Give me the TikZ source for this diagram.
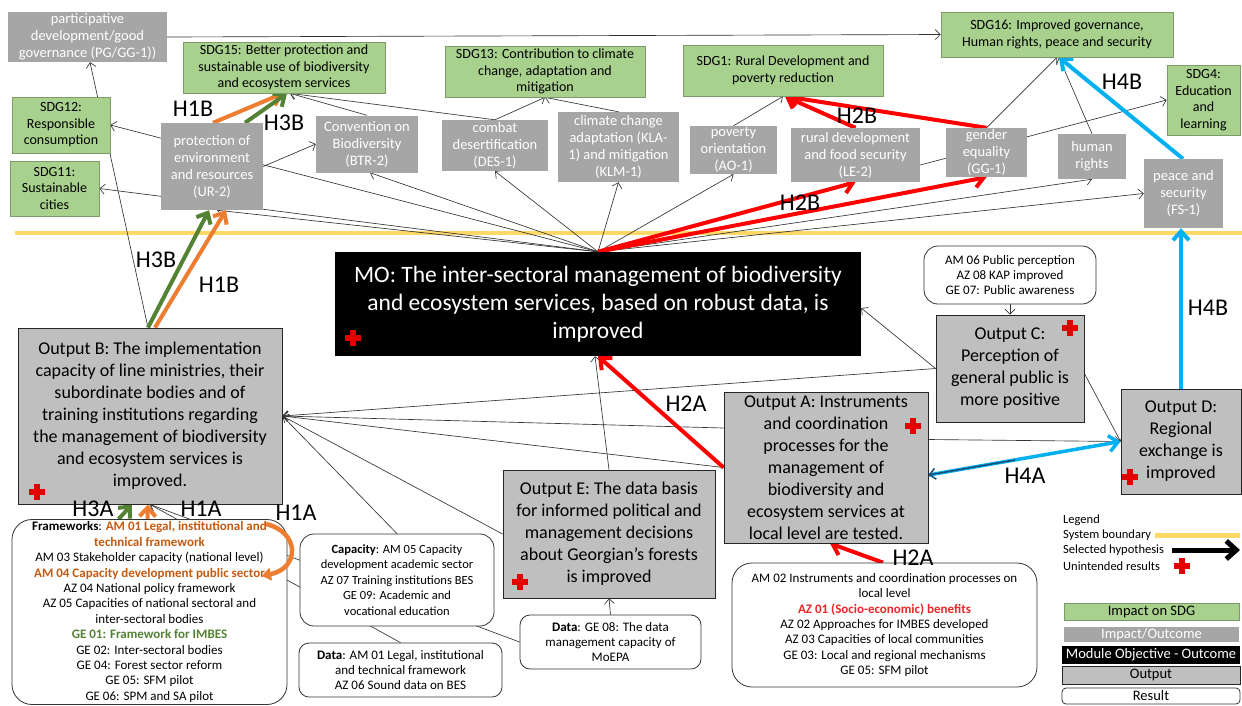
\documentclass[tikz,border=0pt]{standalone}
\usepackage{fontspec}
\setmainfont{Carlito}
\usetikzlibrary{arrows.meta,calc}
\pgfdeclarelayer{bg}
\pgfsetlayers{bg,main}
\definecolor{sdgfill}{RGB}{169,209,142}
\definecolor{sdgdraw}{RGB}{125,155,105}
\definecolor{impgray}{RGB}{166,166,166}
\definecolor{outgray}{RGB}{191,191,191}
\definecolor{hyorange}{RGB}{237,125,49}
\definecolor{hygreen}{RGB}{84,130,53}
\definecolor{hyred}{RGB}{255,0,0}
\definecolor{hyblue}{RGB}{0,176,240}
\definecolor{hynavy}{RGB}{31,78,121}
\definecolor{boundary}{RGB}{255,217,102}
\definecolor{txtorange}{RGB}{197,90,17}
\definecolor{txtgreen}{RGB}{84,130,53}
\definecolor{txtred}{RGB}{232,40,40}
\definecolor{crossred}{RGB}{228,0,0}
\tikzset{
  sdg/.style={draw=sdgdraw, fill=sdgfill, line width=0.7pt, align=center, inner sep=0pt, font=\fontsize{14}{16.5}\selectfont},
  imp/.style={fill=impgray, text=white, align=center, inner sep=0pt, font=\fontsize{14.5}{17}\selectfont},
  outbox/.style={draw=black!85, fill=outgray, line width=0.8pt, align=center, inner sep=0pt, font=\fontsize{18}{22}\selectfont},
  mobox/.style={fill=black, text=white, align=center, inner sep=0pt, font=\fontsize{23.5}{28}\selectfont},
  resbox/.style={draw=black!80, fill=white, rounded corners=14pt, line width=0.8pt, align=center, inner sep=0pt, font=\fontsize{13}{15.4}\selectfont},
  sz/.style 2 args={minimum width=#1pt, minimum height=#2pt},
  conn/.style={draw=black!80, line width=0.65pt, -{Straight Barb[length=5pt,width=10pt]}},
  hyp/.style={line width=4pt, -{Straight Barb[length=9pt,width=16pt]}},
  hlabel/.style={font=\fontsize{24}{24}\selectfont, inner sep=0pt},
  legtext/.style={font=\fontsize{12.5}{15}\selectfont, inner sep=0pt, anchor=west},
  legbox/.style={align=center, inner sep=0pt, font=\fontsize{14.5}{16}\selectfont},
  rcross/.pic={\fill[crossred] (-8,-2.8) rectangle (8,2.8); \fill[crossred] (-2.8,-8) rectangle (2.8,8);}
}
\begin{document}
\begin{tikzpicture}[x=1pt,y=-1pt]
\useasboundingbox (0,0) rectangle (1242,705);

% ---------- SDG boxes ----------
\node[sdg, sz={202}{51}] (sdg15) at (284,67.5) {SDG15: Better protection and\\sustainable use of biodiversity\\and ecosystem services};
\node[sdg, sz={200}{51}] (sdg13) at (545,71.5) {SDG13: Contribution to climate\\change, adaptation and\\mitigation};
\node[sdg, sz={200}{51}] (sdg1) at (783,70.5) {SDG1: Rural Development and\\poverty reduction};
\node[sdg, sz={232}{45}] (sdg16) at (1057,34.5) {SDG16: Improved governance,\\Human rights, peace and security};
\node[sdg, sz={73}{70}] (sdg4) at (1203.5,100) {SDG4:\\Education\\and\\learning};
\node[sdg, sz={98}{56}] (sdg12) at (61,125) {SDG12:\\Responsible\\consumption};
\node[sdg, sz={89}{55}] (sdg11) at (54.5,188.5) {SDG11:\\Sustainable\\cities};

% ---------- Impact / outcome boxes ----------
\node[imp, sz={159}{50}] (pg) at (87.5,37) {participative\\development/good\\governance (PG/GG-1))};
\node[imp, sz={102}{87}] (ur2) at (212,166.5) {protection of\\environment\\and resources\\(UR-2)};
\node[imp, sz={102}{57}] (btr2) at (367,144) {Convention on\\Biodiversity\\(BTR-2)};
\node[imp, sz={106}{51}] (des1) at (495,145.5) {combat\\desertification\\(DES-1)};
\node[imp, sz={121}{70}] (klm) at (618.5,147) {climate change\\adaptation (KLA-\\1) and mitigation\\(KLM-1)};
\node[imp, sz={87}{48}] (ao1) at (733.5,150) {poverty\\orientation\\(AO-1)};
\node[imp, sz={129}{54}] (le2) at (855.5,155) {rural development\\and food security\\(LE-2)};
\node[imp, sz={81}{49}] (gg1) at (986.5,152.5) {gender\\equality\\(GG-1)};
\node[imp, sz={68}{45}] (hr) at (1092,156.5) {human\\rights};
\node[imp, sz={79}{69}] (fs1) at (1183.5,193.5) {peace and\\security\\(FS-1)};

% ---------- Module objective and outputs ----------
\node[mobox, sz={526}{104}] (mo) at (598,304) {MO: The inter-sectoral management of biodiversity\\and ecosystem services, based on robust data, is\\improved};
\node[outbox, sz={264}{176}] (ob) at (150,416) {Output B: The implementation\\capacity of line ministries, their\\subordinate bodies and of\\training institutions regarding\\the management of biodiversity\\and ecosystem services is\\improved.};
\node[outbox, sz={212}{128}] (oe) at (609,534) {Output E: The data basis\\for informed political and\\management decisions\\about Georgian's forests\\is improved};
\node[outbox, sz={204}{151}] (oa) at (826,467.5) {Output A: Instruments\\and coordination\\processes for the\\management of\\biodiversity and\\ecosystem services at\\local level are tested.};
\node[outbox, sz={148}{107}] (oc) at (1010,368.5) {Output C:\\Perception of\\general public is\\more positive};
\node[outbox, sz={120}{105}] (od) at (1181,441.5) {Output D:\\Regional\\exchange is\\improved};

% ---------- Results ----------
\node[resbox, sz={172}{58}] (am06) at (1010,275) {AM 06 Public perception\\AZ 08 KAP improved\\GE 07: Public awareness};
\node[resbox, rounded corners=20pt, sz={275}{185}] (fw) at (149.5,612) {\textbf{Frameworks}: \textcolor{txtorange}{\textbf{AM 01 Legal, institutional and}}\\\textcolor{txtorange}{\textbf{technical framework}}\\AM 03 Stakeholder capacity (national level)\\\textcolor{txtorange}{\textbf{AM 04 Capacity development public sector}}\\AZ 04 National policy framework\\AZ 05 Capacities of national sectoral and\\inter-sectoral bodies\\\textcolor{txtgreen}{\textbf{GE 01: Framework for IMBES}}\\GE 02: Inter-sectoral bodies\\GE 04: Forest sector reform\\GE 05: SFM pilot\\GE 06: SPM and SA pilot};
\node[resbox, font=\fontsize{12.5}{15.6}\selectfont, sz={194}{92}] (cap) at (397,580) {\textbf{Capacity}: AM 05 Capacity\\development academic sector\\AZ 07 Training institutions BES\\GE 09: Academic and\\vocational education};
\node[resbox, rounded corners=10pt, sz={203}{54}] (data1) at (400.5,670) {\textbf{Data}: AM 01 Legal, institutional\\and technical framework\\AZ 06 Sound data on BES};
\node[resbox, rounded corners=10pt, sz={181}{54}] (ge08) at (610.5,642) {\textbf{Data}: GE 08: The data\\management capacity of\\MoEPA};
\node[resbox, rounded corners=20pt, sz={305}{124}] (am02) at (884.5,625) {AM 02 Instruments and coordination processes on\\local level\\\textcolor{txtred}{\textbf{AZ 01 (Socio-economic) benefits}}\\AZ 02 Approaches for IMBES developed\\AZ 03 Capacities of local communities\\GE 03: Local and regional mechanisms\\GE 05: SFM pilot};

% ---------- red crosses (unintended results) ----------
\pic at (353,338) {rcross};
\pic at (37,492) {rcross};
\pic at (520,582) {rcross};
\pic at (913,426) {rcross};
\pic at (1070,328) {rcross};
\pic at (1130,477) {rcross};

% ---------- hypothesis labels ----------
\node[hlabel] (lh1bu) at (193,109) {H1B};
\node[hlabel] (lh3bu) at (284,123) {H3B};
\node[hlabel] (lh3bl) at (156,260) {H3B};
\node[hlabel] (lh1bl) at (219,285) {H1B};
\node[hlabel] (lh2bu) at (857,116) {H2B};
\node[hlabel] (lh2bl) at (800,203) {H2B};
\node[hlabel] (lh2au) at (686,404) {H2A};
\node[hlabel] (lh2al) at (913,558) {H2A};
\node[hlabel] (lh4bu) at (1122,82) {H4B};
\node[hlabel] (lh4bl) at (1208,308) {H4B};
\node[hlabel] (lh4a) at (1025,476) {H4A};
\node[hlabel] (lh3a) at (93,509) {H3A};
\node[hlabel] (lh1a) at (201,509) {H1A};
\node[hlabel] (lh1ab) at (296,513) {H1A};

% ---------- legend ----------
\node[legtext] (lgt1) at (1063,520) {Legend};
\node[legtext] (lgt2) at (1063,535) {System boundary};
\node[legtext] (lgt3) at (1063,550) {Selected hypothesis};
\node[legtext] (lgt4) at (1063,566) {Unintended results};
\pic at (1182,566) {rcross};
\coordinate (lgy1) at (1155,535);
\coordinate (lgy2) at (1240,535);
\draw[boundary, line width=5pt] (lgy1) -- (lgy2);
\coordinate (lga1) at (1172,550);
\coordinate (lga2) at (1240,550);
\draw[black, line width=5pt, -{Straight Barb[length=10pt,width=18pt]}] (lga1) -- (lga2);
\node[legbox, sdg, sz={175}{17}, font=\fontsize{14.5}{16}\selectfont] (lg1) at (1151.5,611.5) {Impact on SDG};
\node[legbox, fill=impgray, text=white, sz={175}{15}] (lg2) at (1151.5,634.5) {Impact/Outcome};
\node[legbox, fill=black, text=white, sz={178}{18}] (lg3) at (1151,655) {Module Objective - Outcome};
\node[legbox, fill=outgray, draw=black!85, line width=0.8pt, sz={178}{18}] (lg4) at (1151,675) {Output};
\node[legbox, fill=white, draw=black!80, line width=0.8pt, rounded corners=4pt, sz={178}{16}] (lg5) at (1151,696) {Result};

% ---------- orange curved arrow inside Frameworks ----------
\coordinate (cva) at (266,524);
\coordinate (cvb) at (262,576);
\draw[hyorange, line width=4.5pt, -{Triangle[length=9pt,width=13pt]}] (cva) .. controls (300,532) and (300,568) .. (cvb);

% ---------- connectors (behind boxes) ----------
\begin{pgfonlayer}{bg}
\fill[white] (0,0) rectangle (1242,705);
\coordinate (bl) at (15,233);
\coordinate (br) at (1242,233);
\draw[boundary, line width=4pt] (bl) -- (br);

\draw[conn] (pg.east) -- (sdg16.west);
\draw[conn] ([xshift=-2pt]ob.north) -- ([xshift=2.5pt]pg.south);
\draw[conn] (mo.north) -- (sdg12.east);
\draw[conn] (mo.north) -- (sdg11.east);
\draw[conn] (mo.north) -- ([xshift=5pt]ur2.south);
\draw[conn] (ur2.east) -- (btr2.west);
\draw[conn] (mo.north) -- ([xshift=3pt]btr2.south);
\draw[conn] (mo.north) -- (des1.south);
\draw[conn] (mo.north) -- (klm.south);
\draw[conn] (mo.north) -- (ao1.south);
\draw[conn] (mo.north) -- (hr.south);
\draw[conn] (mo.north) -- (fs1.west);
\draw[conn] (btr2.north) -- ([xshift=6pt]sdg15.south);
\draw[conn] (des1.north) -- ([xshift=6pt]sdg15.south);
\draw[conn] (des1.north) -- (sdg13.south);
\draw[conn] (klm.north) -- (sdg13.south);
\draw[conn] (ao1.north) -- (sdg1.south);
\draw[conn] (gg1.north) -- (sdg16.south);
\draw[conn] (hr.north) -- ([xshift=2pt]sdg16.south);
\draw[conn] ([yshift=-10pt]le2.east) -- (sdg4.west);
\draw[conn] (oc.west) -- (ob.east);
\draw[conn] ([yshift=39.5pt]oa.west) -- (ob.east);
\draw[conn] (oa.west) -- (ob.east);
\draw[conn] (oe.west) -- (ob.east);
\draw[conn] (cap.north) -- (ob.east);
\draw[conn] (data1.north) -- (ob.south);
\draw[conn] (ge08.west) -- (ob.south);
\draw[conn] (oc.west) -- ([yshift=-4pt]mo.east);
\draw[conn] (oe.north) -- ([xshift=-3pt]mo.south);
\draw[conn] (am06.south) -- (oc.north);
\draw[conn] ([yshift=28pt]oa.east) -- (od.west);
\draw[conn] ([yshift=-5pt]oc.east) -- (od.west);
\draw[conn] (ge08.north) -- (oe.south);

% hypotheses
\draw[hyp, hyred] (mo.north) -- (le2.south);
\draw[hyp, hyred] (mo.north) -- (gg1.south);
\draw[hyp, hyred] (le2.north) -- ([xshift=2pt]sdg1.south);
\draw[hyp, hyred] (gg1.north) -- ([xshift=2pt]sdg1.south);
\draw[hyp, hyred] (oa.west) -- (mo.south);
\draw[hyp, hyred] ([xshift=-1.5pt]am02.north) -- ([xshift=4pt]oa.south);
\draw[hyp, hygreen] ([xshift=-2pt]ob.north) -- ([xshift=-3pt]ur2.south);
\draw[hyp, hyorange] ([xshift=5pt]ob.north) -- ([xshift=14pt]ur2.south);
\draw[hyp, hyorange] ([xshift=1pt]ur2.north) -- ([xshift=-1pt]sdg15.south);
\draw[hyp, hygreen] ([xshift=33pt]ur2.north) -- ([xshift=3pt]sdg15.south);
\draw[hyp, hygreen] ([xshift=-31pt]fw.north) -- ([xshift=-18pt]ob.south);
\draw[hyp, hyorange] ([xshift=-2pt]fw.north) -- ([xshift=-2pt]ob.south);
\draw[hyp, hyblue] (od.north) -- (od.north |- fs1.south);
\draw[hyp, hyblue] ([xshift=-0.5pt]fs1.north) -- ([xshift=2pt]sdg16.south);
\draw[hyp, hyblue, line width=3.5pt] ([yshift=-7.5pt]oa.east) -- (od.west);
\coordinate (h4amid) at ($(od.west)!0.55!([yshift=-7.5pt]oa.east)$);
\draw[hynavy, line width=1.5pt, -{Straight Barb[length=6pt,width=11pt]}] (h4amid) -- ([yshift=-7.5pt]oa.east);
\end{pgfonlayer}
\end{tikzpicture}
\end{document}
